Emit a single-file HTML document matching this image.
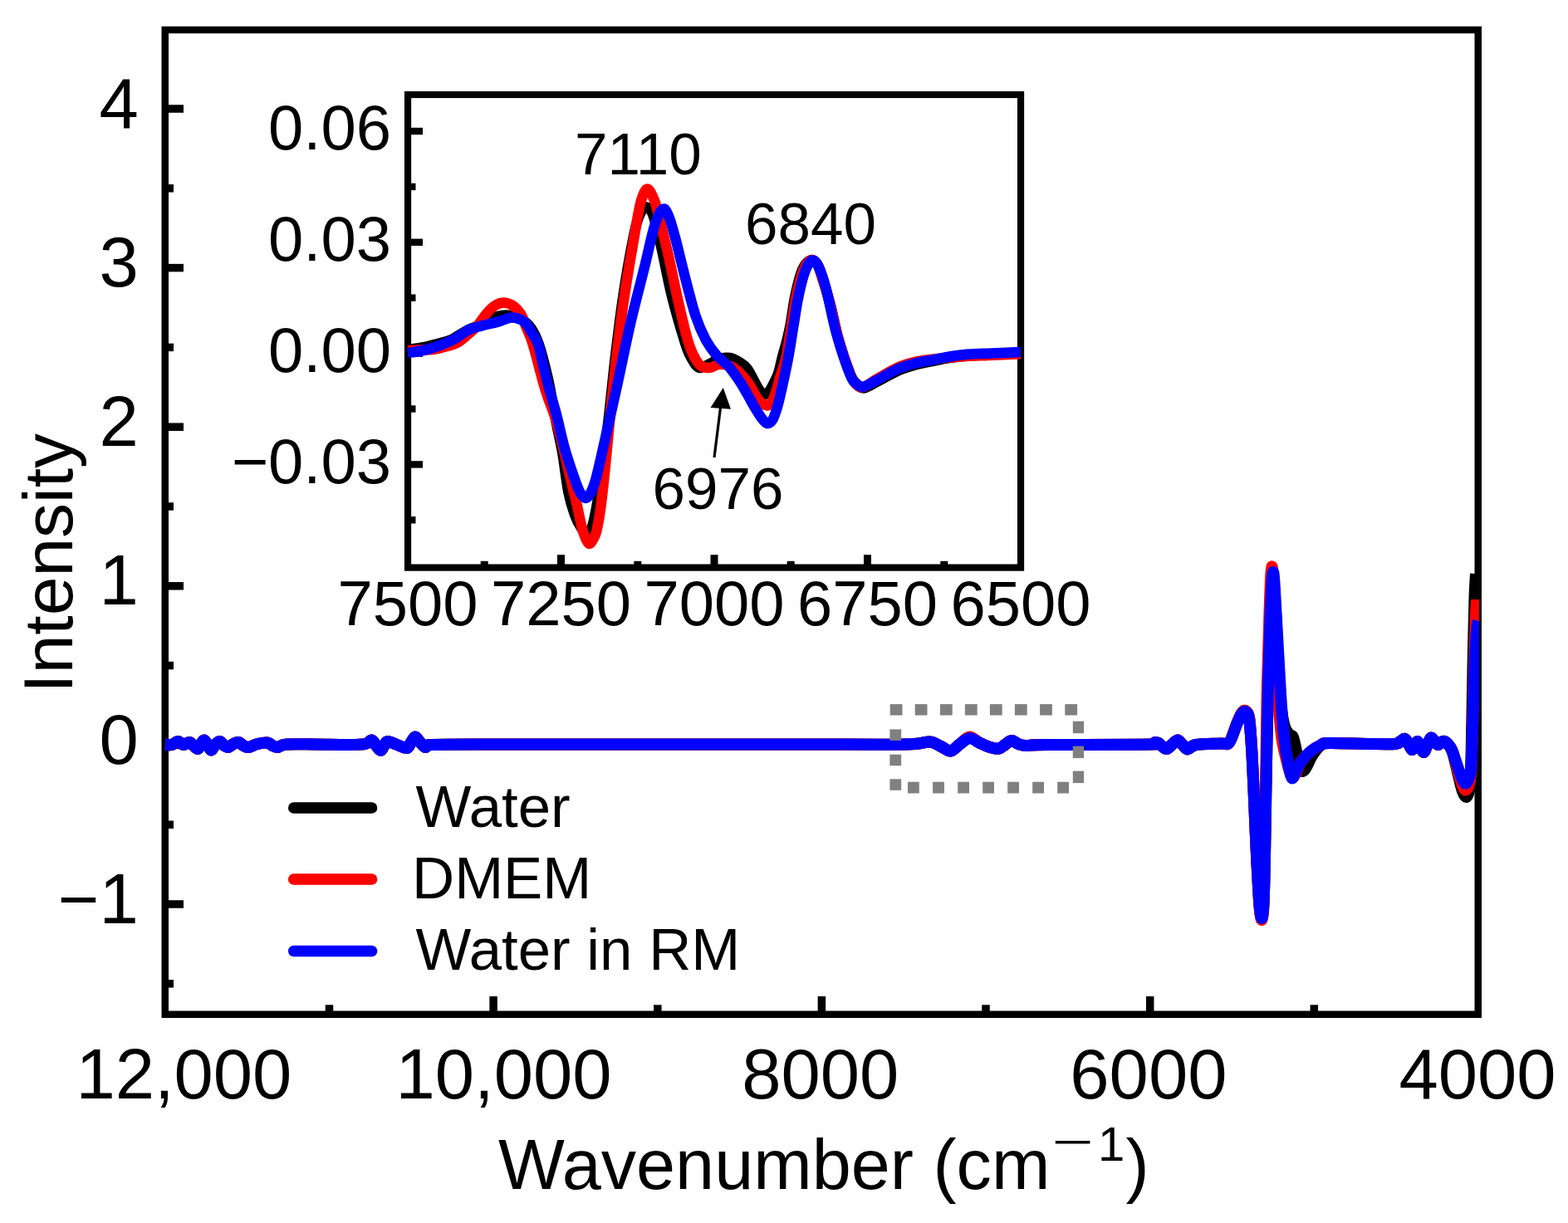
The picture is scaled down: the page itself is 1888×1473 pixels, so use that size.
<!DOCTYPE html><html><head><meta charset="utf-8"><title>Intensity vs Wavenumber</title>
<style>html,body{margin:0;padding:0;background:#fff;}svg{display:block;}text{font-family:'Liberation Sans', Arial, Helvetica, sans-serif;fill:#000;}</style></head><body>
<svg width="1888" height="1473" viewBox="0 0 1888 1473">
<rect x="0" y="0" width="1888" height="1473" fill="#fff"/>
<clipPath id="mc"><rect x="0" y="0" width="1781" height="1473"/></clipPath>
<rect x="198.75" y="36.00" width="1581.00" height="1185.75" fill="none" stroke="#000" stroke-width="8.5"/>
<line x1="198.8" y1="131.0" x2="221" y2="131.0" stroke="#000" stroke-width="9.5"/>
<line x1="198.8" y1="322.6" x2="221" y2="322.6" stroke="#000" stroke-width="9.5"/>
<line x1="198.8" y1="514.2" x2="221" y2="514.2" stroke="#000" stroke-width="9.5"/>
<line x1="198.8" y1="705.8" x2="221" y2="705.8" stroke="#000" stroke-width="9.5"/>
<line x1="198.8" y1="897.4" x2="221" y2="897.4" stroke="#000" stroke-width="9.5"/>
<line x1="198.8" y1="1089.0" x2="221" y2="1089.0" stroke="#000" stroke-width="9.5"/>
<line x1="198.8" y1="226.8" x2="209" y2="226.8" stroke="#000" stroke-width="9.5"/>
<line x1="198.8" y1="418.4" x2="209" y2="418.4" stroke="#000" stroke-width="9.5"/>
<line x1="198.8" y1="610.0" x2="209" y2="610.0" stroke="#000" stroke-width="9.5"/>
<line x1="198.8" y1="801.6" x2="209" y2="801.6" stroke="#000" stroke-width="9.5"/>
<line x1="198.8" y1="993.2" x2="209" y2="993.2" stroke="#000" stroke-width="9.5"/>
<line x1="198.8" y1="1184.8" x2="209" y2="1184.8" stroke="#000" stroke-width="9.5"/>
<line x1="594.1" y1="1221.8" x2="594.1" y2="1200" stroke="#000" stroke-width="9.5"/>
<line x1="989.4" y1="1221.8" x2="989.4" y2="1200" stroke="#000" stroke-width="9.5"/>
<line x1="1384.7" y1="1221.8" x2="1384.7" y2="1200" stroke="#000" stroke-width="9.5"/>
<line x1="396.5" y1="1221.8" x2="396.5" y2="1210.3" stroke="#000" stroke-width="9.5"/>
<line x1="791.8" y1="1221.8" x2="791.8" y2="1210.3" stroke="#000" stroke-width="9.5"/>
<line x1="1187.0" y1="1221.8" x2="1187.0" y2="1210.3" stroke="#000" stroke-width="9.5"/>
<line x1="1582.3" y1="1221.8" x2="1582.3" y2="1210.3" stroke="#000" stroke-width="9.5"/>
<g fill="none" stroke-linejoin="round" stroke-linecap="butt" stroke-width="14" clip-path="url(#mc)">
<path stroke="#000" d="M198.7,896.5 C200.1,896.6 204.4,897.6 207.0,897.0 C209.6,896.4 212.2,893.0 214.5,893.0 C216.8,893.0 218.8,896.8 221.0,897.0 C223.2,897.2 226.0,893.8 228.0,894.0 C230.0,894.2 231.3,896.7 233.0,898.0 C234.7,899.3 236.7,902.3 238.2,902.0 C239.7,901.7 240.7,897.8 242.0,896.0 C243.3,894.2 244.5,891.3 245.8,891.5 C247.1,891.7 248.6,895.0 250.0,897.0 C251.4,899.0 252.8,903.5 254.3,903.5 C255.8,903.5 257.3,898.8 259.0,897.0 C260.7,895.2 262.7,892.8 264.5,893.0 C266.3,893.2 268.3,896.8 270.0,898.0 C271.7,899.2 272.9,900.3 274.7,900.0 C276.5,899.7 278.9,897.0 281.0,896.0 C283.1,895.0 285.4,893.7 287.4,894.0 C289.4,894.3 291.0,897.0 293.0,898.0 C295.0,899.0 296.4,900.3 299.2,900.0 C302.0,899.7 306.2,896.9 310.0,896.0 C313.8,895.1 319.1,894.2 322.1,894.5 C325.1,894.8 326.0,897.1 328.0,898.0 C330.0,898.9 331.2,900.2 334.0,900.0 C336.8,899.8 337.3,897.1 345.0,896.5 C352.7,895.9 367.5,896.4 380.0,896.5 C392.5,896.6 410.0,897.1 420.0,897.0 C430.0,896.9 435.4,896.9 440.0,896.0 C444.6,895.1 445.3,891.2 447.5,891.5 C449.7,891.8 451.1,895.9 453.0,898.0 C454.9,900.1 456.9,904.2 458.6,904.0 C460.3,903.8 461.6,898.8 463.0,897.0 C464.4,895.2 464.5,893.0 467.0,893.0 C469.5,893.0 474.2,895.7 478.0,897.0 C481.8,898.3 487.2,901.5 490.0,901.0 C492.8,900.5 493.3,896.2 495.0,894.0 C496.7,891.8 498.3,887.7 500.0,887.5 C501.7,887.3 503.0,890.9 505.0,893.0 C507.0,895.1 509.5,899.3 512.0,900.0 C514.5,900.7 505.3,897.6 520.0,897.0 C534.7,896.4 570.0,896.6 600.0,896.5 C630.0,896.4 666.7,896.5 700.0,896.5 C733.3,896.5 766.7,896.5 800.0,896.5 C833.3,896.5 866.7,896.5 900.0,896.5 C933.3,896.5 973.3,896.5 1000.0,896.5 C1026.7,896.5 1043.2,896.9 1060.0,896.8 C1076.8,896.7 1091.0,896.5 1101.0,896.0 C1111.0,895.5 1114.7,893.0 1120.0,893.5 C1125.3,894.0 1128.9,897.2 1133.0,899.0 C1137.1,900.8 1140.7,905.0 1144.5,904.5 C1148.3,904.0 1152.2,898.6 1156.0,896.0 C1159.8,893.4 1163.5,889.2 1167.5,889.0 C1171.5,888.8 1175.9,893.2 1180.0,895.0 C1184.1,896.8 1188.2,898.9 1192.0,900.0 C1195.8,901.1 1200.0,902.0 1203.0,901.5 C1206.0,901.0 1207.5,898.6 1210.0,897.0 C1212.5,895.4 1215.3,892.2 1218.0,892.0 C1220.7,891.8 1223.2,895.0 1226.0,896.0 C1228.8,897.0 1229.3,897.8 1235.0,898.0 C1240.7,898.2 1235.0,897.2 1260.0,897.0 C1285.0,896.8 1363.2,897.0 1385.0,896.5 C1406.8,896.0 1389.0,893.9 1391.0,894.0 C1393.0,894.1 1394.7,895.7 1397.0,897.0 C1399.3,898.3 1402.3,902.0 1404.6,902.0 C1406.9,902.0 1408.8,898.8 1411.0,897.0 C1413.2,895.2 1415.8,891.5 1418.0,891.5 C1420.2,891.5 1422.0,895.2 1424.0,897.0 C1426.0,898.8 1427.3,902.5 1430.0,902.5 C1432.7,902.5 1433.3,898.2 1440.0,897.0 C1446.7,895.8 1463.3,895.9 1470.0,895.5 C1476.7,895.1 1476.8,898.4 1480.0,894.5 C1483.2,890.6 1486.5,877.9 1489.0,872.0 C1491.5,866.1 1493.2,861.7 1495.0,859.0 C1496.8,856.3 1498.0,855.2 1499.5,856.0 C1501.0,856.8 1502.8,856.7 1504.0,864.0 C1505.2,871.3 1506.1,885.7 1507.0,900.0 C1507.9,914.3 1508.5,928.3 1509.5,950.0 C1510.5,971.7 1511.8,1006.7 1513.0,1030.0 C1514.2,1053.3 1515.4,1077.7 1516.4,1090.0 C1517.4,1102.3 1518.2,1104.3 1519.0,1104.0 C1519.8,1103.7 1520.8,1100.3 1521.5,1088.0 C1522.2,1075.7 1522.5,1053.0 1523.0,1030.0 C1523.5,1007.0 1523.8,982.3 1524.4,950.0 C1525.0,917.7 1525.8,871.3 1526.7,836.0 C1527.6,800.7 1528.7,762.0 1529.7,738.0 C1530.7,714.0 1531.5,692.0 1532.5,692.0 C1533.5,692.0 1534.6,714.0 1536.0,738.0 C1537.4,762.0 1539.3,813.7 1541.0,836.0 C1542.7,858.3 1544.2,864.0 1546.0,872.0 C1547.8,880.0 1550.2,881.3 1552.0,884.0 C1553.8,886.7 1555.5,884.5 1557.0,888.0 C1558.5,891.5 1559.7,899.0 1561.0,905.0 C1562.3,911.0 1563.7,920.0 1565.0,924.0 C1566.3,928.0 1567.5,929.3 1569.0,929.0 C1570.5,928.7 1572.2,925.2 1574.0,922.0 C1575.8,918.8 1577.3,914.0 1580.0,910.0 C1582.7,906.0 1586.7,900.5 1590.0,898.0 C1593.3,895.5 1590.0,895.3 1600.0,895.0 C1610.0,894.7 1636.7,895.8 1650.0,896.0 C1663.3,896.2 1674.0,896.5 1680.0,896.0 C1686.0,895.5 1684.1,894.0 1686.0,893.0 C1687.9,892.0 1689.8,889.3 1691.5,889.8 C1693.2,890.3 1694.6,893.8 1696.0,896.0 C1697.4,898.2 1698.8,902.7 1700.0,903.0 C1701.2,903.3 1701.9,899.7 1703.0,898.0 C1704.1,896.3 1705.5,892.8 1706.7,893.0 C1707.9,893.2 1708.7,896.8 1710.0,899.0 C1711.3,901.2 1713.0,906.0 1714.3,906.0 C1715.6,906.0 1716.5,901.9 1718.0,899.0 C1719.5,896.1 1721.3,889.5 1723.0,888.7 C1724.7,887.9 1726.5,892.6 1728.0,894.0 C1729.5,895.4 1730.5,897.0 1731.7,897.0 C1732.9,897.0 1733.7,894.7 1735.0,894.0 C1736.3,893.3 1737.8,892.5 1739.3,893.0 C1740.8,893.5 1742.4,894.8 1744.0,897.0 C1745.6,899.2 1747.0,899.8 1749.0,906.0 C1751.0,912.2 1754.0,926.2 1756.0,934.0 C1758.0,941.8 1759.4,948.7 1761.0,953.0 C1762.6,957.3 1764.2,960.2 1765.5,960.0 C1766.8,959.8 1768.1,957.0 1769.0,952.0 C1769.9,947.0 1770.4,945.3 1771.0,930.0 C1771.6,914.7 1772.0,885.0 1772.5,860.0 C1773.0,835.0 1773.5,803.3 1774.0,780.0 C1774.5,756.7 1775.1,733.7 1775.5,720.0 C1775.9,706.3 1776.3,702.8 1776.6,698.0 C1776.8,693.2 1776.9,692.2 1777.0,691.0"/>
<path stroke="#f00" d="M198.7,896.5 C200.1,896.6 204.4,897.6 207.0,897.0 C209.6,896.4 212.2,893.0 214.5,893.0 C216.8,893.0 218.8,896.8 221.0,897.0 C223.2,897.2 226.0,893.8 228.0,894.0 C230.0,894.2 231.3,896.7 233.0,898.0 C234.7,899.3 236.7,902.3 238.2,902.0 C239.7,901.7 240.7,897.8 242.0,896.0 C243.3,894.2 244.5,891.3 245.8,891.5 C247.1,891.7 248.6,895.0 250.0,897.0 C251.4,899.0 252.8,903.5 254.3,903.5 C255.8,903.5 257.3,898.8 259.0,897.0 C260.7,895.2 262.7,892.8 264.5,893.0 C266.3,893.2 268.3,896.8 270.0,898.0 C271.7,899.2 272.9,900.3 274.7,900.0 C276.5,899.7 278.9,897.0 281.0,896.0 C283.1,895.0 285.4,893.7 287.4,894.0 C289.4,894.3 291.0,897.0 293.0,898.0 C295.0,899.0 296.4,900.3 299.2,900.0 C302.0,899.7 306.2,896.9 310.0,896.0 C313.8,895.1 319.1,894.2 322.1,894.5 C325.1,894.8 326.0,897.1 328.0,898.0 C330.0,898.9 331.2,900.2 334.0,900.0 C336.8,899.8 337.3,897.1 345.0,896.5 C352.7,895.9 367.5,896.4 380.0,896.5 C392.5,896.6 410.0,897.1 420.0,897.0 C430.0,896.9 435.4,896.9 440.0,896.0 C444.6,895.1 445.3,891.2 447.5,891.5 C449.7,891.8 451.1,895.9 453.0,898.0 C454.9,900.1 456.9,904.2 458.6,904.0 C460.3,903.8 461.6,898.8 463.0,897.0 C464.4,895.2 464.5,893.0 467.0,893.0 C469.5,893.0 474.2,895.7 478.0,897.0 C481.8,898.3 487.2,901.5 490.0,901.0 C492.8,900.5 493.3,896.2 495.0,894.0 C496.7,891.8 498.3,887.7 500.0,887.5 C501.7,887.3 503.0,890.9 505.0,893.0 C507.0,895.1 509.5,899.3 512.0,900.0 C514.5,900.7 505.3,897.6 520.0,897.0 C534.7,896.4 570.0,896.6 600.0,896.5 C630.0,896.4 666.7,896.5 700.0,896.5 C733.3,896.5 766.7,896.5 800.0,896.5 C833.3,896.5 866.7,896.5 900.0,896.5 C933.3,896.5 973.3,896.5 1000.0,896.5 C1026.7,896.5 1043.2,896.9 1060.0,896.8 C1076.8,896.7 1091.0,896.5 1101.0,896.0 C1111.0,895.5 1114.7,893.0 1120.0,893.5 C1125.3,894.0 1128.9,897.2 1133.0,899.0 C1137.1,900.8 1140.7,905.0 1144.5,904.5 C1148.3,904.0 1152.2,898.8 1156.0,896.0 C1159.8,893.2 1163.5,887.7 1167.5,887.5 C1171.5,887.3 1175.9,892.9 1180.0,895.0 C1184.1,897.1 1188.2,898.9 1192.0,900.0 C1195.8,901.1 1200.0,902.0 1203.0,901.5 C1206.0,901.0 1207.5,898.6 1210.0,897.0 C1212.5,895.4 1215.3,892.2 1218.0,892.0 C1220.7,891.8 1223.2,895.0 1226.0,896.0 C1228.8,897.0 1229.3,897.8 1235.0,898.0 C1240.7,898.2 1235.0,897.2 1260.0,897.0 C1285.0,896.8 1363.2,897.0 1385.0,896.5 C1406.8,896.0 1389.0,893.9 1391.0,894.0 C1393.0,894.1 1394.7,895.7 1397.0,897.0 C1399.3,898.3 1402.3,902.0 1404.6,902.0 C1406.9,902.0 1408.8,898.8 1411.0,897.0 C1413.2,895.2 1415.8,891.5 1418.0,891.5 C1420.2,891.5 1422.0,895.2 1424.0,897.0 C1426.0,898.8 1427.3,902.5 1430.0,902.5 C1432.7,902.5 1433.3,898.2 1440.0,897.0 C1446.7,895.8 1463.3,895.9 1470.0,895.5 C1476.7,895.1 1476.8,898.4 1480.0,894.5 C1483.2,890.6 1486.5,877.9 1489.0,872.0 C1491.5,866.1 1493.2,861.7 1495.0,859.0 C1496.8,856.3 1498.0,855.2 1499.5,856.0 C1501.0,856.8 1502.8,856.7 1504.0,864.0 C1505.2,871.3 1506.1,885.7 1507.0,900.0 C1507.9,914.3 1508.5,928.3 1509.5,950.0 C1510.5,971.7 1511.8,1006.7 1513.0,1030.0 C1514.2,1053.3 1515.4,1077.0 1516.4,1090.0 C1517.5,1103.0 1518.5,1108.3 1519.3,1108.0 C1520.1,1107.7 1520.9,1101.0 1521.5,1088.0 C1522.1,1075.0 1522.6,1053.0 1523.0,1030.0 C1523.4,1007.0 1523.5,982.3 1524.0,950.0 C1524.5,917.7 1525.0,871.3 1525.7,836.0 C1526.5,800.7 1527.6,763.6 1528.5,738.0 C1529.4,712.4 1530.2,683.7 1531.3,682.4 C1532.4,681.1 1533.7,704.4 1535.0,730.0 C1536.3,755.6 1537.7,810.0 1539.0,836.0 C1540.3,862.0 1541.3,872.8 1543.0,886.0 C1544.7,899.2 1547.0,906.8 1549.0,915.0 C1551.0,923.2 1553.2,932.2 1555.0,935.0 C1556.8,937.8 1558.2,934.8 1560.0,932.0 C1561.8,929.2 1563.0,922.5 1566.0,918.0 C1569.0,913.5 1574.0,908.4 1578.0,905.0 C1582.0,901.6 1586.3,899.2 1590.0,897.5 C1593.7,895.8 1590.0,895.2 1600.0,895.0 C1610.0,894.8 1636.7,895.8 1650.0,896.0 C1663.3,896.2 1674.0,896.5 1680.0,896.0 C1686.0,895.5 1684.1,894.0 1686.0,893.0 C1687.9,892.0 1689.8,889.3 1691.5,889.8 C1693.2,890.3 1694.6,893.8 1696.0,896.0 C1697.4,898.2 1698.8,902.7 1700.0,903.0 C1701.2,903.3 1701.9,899.7 1703.0,898.0 C1704.1,896.3 1705.5,892.8 1706.7,893.0 C1707.9,893.2 1708.7,896.8 1710.0,899.0 C1711.3,901.2 1713.0,906.0 1714.3,906.0 C1715.6,906.0 1716.5,901.9 1718.0,899.0 C1719.5,896.1 1721.3,889.5 1723.0,888.7 C1724.7,887.9 1726.5,892.6 1728.0,894.0 C1729.5,895.4 1730.5,897.0 1731.7,897.0 C1732.9,897.0 1733.7,894.7 1735.0,894.0 C1736.3,893.3 1737.8,892.5 1739.3,893.0 C1740.8,893.5 1742.4,895.0 1744.0,897.0 C1745.6,899.0 1747.0,899.5 1749.0,905.0 C1751.0,910.5 1754.0,923.2 1756.0,930.0 C1758.0,936.8 1759.5,942.4 1761.0,946.0 C1762.5,949.6 1763.7,951.8 1765.0,951.5 C1766.3,951.2 1767.9,948.4 1769.0,944.0 C1770.1,939.6 1770.8,939.0 1771.5,925.0 C1772.2,911.0 1772.8,882.5 1773.5,860.0 C1774.2,837.5 1774.9,810.0 1775.5,790.0 C1776.1,770.0 1776.6,750.3 1777.0,740.0 C1777.4,729.7 1777.6,731.0 1777.8,728.0 C1778.0,725.0 1778.0,723.0 1778.0,722.0"/>
<path stroke="#00f" d="M198.7,896.5 C200.1,896.6 204.4,897.6 207.0,897.0 C209.6,896.4 212.2,893.0 214.5,893.0 C216.8,893.0 218.8,896.8 221.0,897.0 C223.2,897.2 226.0,893.8 228.0,894.0 C230.0,894.2 231.3,896.7 233.0,898.0 C234.7,899.3 236.7,902.3 238.2,902.0 C239.7,901.7 240.7,897.8 242.0,896.0 C243.3,894.2 244.5,891.3 245.8,891.5 C247.1,891.7 248.6,895.0 250.0,897.0 C251.4,899.0 252.8,903.5 254.3,903.5 C255.8,903.5 257.3,898.8 259.0,897.0 C260.7,895.2 262.7,892.8 264.5,893.0 C266.3,893.2 268.3,896.8 270.0,898.0 C271.7,899.2 272.9,900.3 274.7,900.0 C276.5,899.7 278.9,897.0 281.0,896.0 C283.1,895.0 285.4,893.7 287.4,894.0 C289.4,894.3 291.0,897.0 293.0,898.0 C295.0,899.0 296.4,900.3 299.2,900.0 C302.0,899.7 306.2,896.9 310.0,896.0 C313.8,895.1 319.1,894.2 322.1,894.5 C325.1,894.8 326.0,897.1 328.0,898.0 C330.0,898.9 331.2,900.2 334.0,900.0 C336.8,899.8 337.3,897.1 345.0,896.5 C352.7,895.9 367.5,896.4 380.0,896.5 C392.5,896.6 410.0,897.1 420.0,897.0 C430.0,896.9 435.4,896.9 440.0,896.0 C444.6,895.1 445.3,891.2 447.5,891.5 C449.7,891.8 451.1,895.9 453.0,898.0 C454.9,900.1 456.9,904.2 458.6,904.0 C460.3,903.8 461.6,898.8 463.0,897.0 C464.4,895.2 464.5,893.0 467.0,893.0 C469.5,893.0 474.2,895.7 478.0,897.0 C481.8,898.3 487.2,901.5 490.0,901.0 C492.8,900.5 493.3,896.2 495.0,894.0 C496.7,891.8 498.3,887.7 500.0,887.5 C501.7,887.3 503.0,890.9 505.0,893.0 C507.0,895.1 509.5,899.3 512.0,900.0 C514.5,900.7 505.3,897.6 520.0,897.0 C534.7,896.4 570.0,896.6 600.0,896.5 C630.0,896.4 666.7,896.5 700.0,896.5 C733.3,896.5 766.7,896.5 800.0,896.5 C833.3,896.5 866.7,896.5 900.0,896.5 C933.3,896.5 973.3,896.5 1000.0,896.5 C1026.7,896.5 1043.2,896.9 1060.0,896.8 C1076.8,896.7 1091.0,896.5 1101.0,896.0 C1111.0,895.5 1114.7,893.0 1120.0,893.5 C1125.3,894.0 1128.9,897.2 1133.0,899.0 C1137.1,900.8 1140.7,905.0 1144.5,904.5 C1148.3,904.0 1152.2,898.6 1156.0,896.0 C1159.8,893.4 1163.5,889.2 1167.5,889.0 C1171.5,888.8 1175.9,893.2 1180.0,895.0 C1184.1,896.8 1188.2,898.9 1192.0,900.0 C1195.8,901.1 1200.0,902.0 1203.0,901.5 C1206.0,901.0 1207.5,898.6 1210.0,897.0 C1212.5,895.4 1215.3,892.2 1218.0,892.0 C1220.7,891.8 1223.2,895.0 1226.0,896.0 C1228.8,897.0 1229.3,897.8 1235.0,898.0 C1240.7,898.2 1235.0,897.2 1260.0,897.0 C1285.0,896.8 1363.2,897.0 1385.0,896.5 C1406.8,896.0 1389.0,893.9 1391.0,894.0 C1393.0,894.1 1394.7,895.7 1397.0,897.0 C1399.3,898.3 1402.3,902.0 1404.6,902.0 C1406.9,902.0 1408.8,898.8 1411.0,897.0 C1413.2,895.2 1415.8,891.5 1418.0,891.5 C1420.2,891.5 1422.0,895.2 1424.0,897.0 C1426.0,898.8 1427.3,902.5 1430.0,902.5 C1432.7,902.5 1433.3,898.2 1440.0,897.0 C1446.7,895.8 1463.3,895.9 1470.0,895.5 C1476.7,895.1 1476.8,898.2 1480.0,894.5 C1483.2,890.8 1486.5,878.8 1489.0,873.0 C1491.5,867.2 1493.2,862.7 1495.0,860.0 C1496.8,857.3 1498.0,856.2 1499.5,857.0 C1501.0,857.8 1502.8,857.8 1504.0,865.0 C1505.2,872.2 1506.1,885.8 1507.0,900.0 C1507.9,914.2 1508.5,928.3 1509.5,950.0 C1510.5,971.7 1511.8,1007.0 1513.0,1030.0 C1514.2,1053.0 1515.4,1075.3 1516.4,1088.0 C1517.5,1100.7 1518.5,1106.0 1519.3,1106.0 C1520.1,1106.0 1520.9,1100.7 1521.5,1088.0 C1522.1,1075.3 1522.5,1053.0 1523.0,1030.0 C1523.5,1007.0 1523.8,982.3 1524.4,950.0 C1525.0,917.7 1525.8,871.3 1526.7,836.0 C1527.6,800.7 1528.7,762.5 1529.7,738.0 C1530.8,713.5 1531.9,689.0 1533.0,689.0 C1534.1,689.0 1535.0,713.5 1536.5,738.0 C1538.0,762.5 1540.4,811.3 1542.0,836.0 C1543.6,860.7 1544.5,872.0 1546.0,886.0 C1547.5,900.0 1549.4,911.5 1551.0,920.0 C1552.6,928.5 1554.0,935.3 1555.5,937.0 C1557.0,938.7 1558.2,933.2 1560.0,930.0 C1561.8,926.8 1563.0,922.2 1566.0,918.0 C1569.0,913.8 1574.0,908.4 1578.0,905.0 C1582.0,901.6 1586.3,899.2 1590.0,897.5 C1593.7,895.8 1590.0,895.2 1600.0,895.0 C1610.0,894.8 1636.7,895.8 1650.0,896.0 C1663.3,896.2 1674.0,896.5 1680.0,896.0 C1686.0,895.5 1684.1,894.0 1686.0,893.0 C1687.9,892.0 1689.8,889.3 1691.5,889.8 C1693.2,890.3 1694.6,893.8 1696.0,896.0 C1697.4,898.2 1698.8,902.7 1700.0,903.0 C1701.2,903.3 1701.9,899.7 1703.0,898.0 C1704.1,896.3 1705.5,892.8 1706.7,893.0 C1707.9,893.2 1708.7,896.8 1710.0,899.0 C1711.3,901.2 1713.0,906.0 1714.3,906.0 C1715.6,906.0 1716.5,901.9 1718.0,899.0 C1719.5,896.1 1721.3,889.5 1723.0,888.7 C1724.7,887.9 1726.5,892.6 1728.0,894.0 C1729.5,895.4 1730.5,897.0 1731.7,897.0 C1732.9,897.0 1733.7,894.7 1735.0,894.0 C1736.3,893.3 1737.8,892.5 1739.3,893.0 C1740.8,893.5 1742.5,895.3 1744.0,897.0 C1745.5,898.7 1746.1,898.5 1748.0,903.0 C1749.9,907.5 1753.4,918.3 1755.4,924.0 C1757.4,929.7 1758.5,933.7 1760.0,937.0 C1761.5,940.3 1762.9,943.4 1764.3,943.6 C1765.7,943.8 1767.3,941.6 1768.5,938.0 C1769.7,934.4 1770.7,934.3 1771.5,922.0 C1772.3,909.7 1772.8,883.5 1773.5,864.0 C1774.2,844.5 1774.8,821.3 1775.5,805.0 C1776.2,788.7 1776.9,774.8 1777.5,766.0 C1778.1,757.2 1778.6,755.0 1779.0,752.0 C1779.4,749.0 1779.8,748.7 1780.0,748.0"/>
</g>
<text x="166.7" y="153.5" font-size="85" text-anchor="end">4</text>
<text x="166.7" y="345.1" font-size="85" text-anchor="end">3</text>
<text x="166.7" y="536.7" font-size="85" text-anchor="end">2</text>
<text x="166.7" y="728.3" font-size="85" text-anchor="end">1</text>
<text x="166.7" y="919.9" font-size="85" text-anchor="end">0</text>
<text x="166.7" y="1111.5" font-size="85" text-anchor="end">−1</text>
<text x="221.4" y="1322.8" font-size="85" text-anchor="middle">12,000</text>
<text x="606.5" y="1322.8" font-size="85" text-anchor="middle">10,000</text>
<text x="987.8" y="1322.8" font-size="85" text-anchor="middle">8000</text>
<text x="1382.9" y="1322.8" font-size="85" text-anchor="middle">6000</text>
<text x="1779.0" y="1322.8" font-size="85" text-anchor="middle">4000</text>
<text x="600" y="1432.1" font-size="84.6">Wavenumber (cm</text>
<text x="1267" y="1395" font-size="58" transform="translate(1267 1376) scale(1.477 0.85) translate(-1267 -1376)">−</text>
<text x="1322" y="1398.3" font-size="58">1</text>
<text x="1355.5" y="1432.1" font-size="84.6">)</text>
<text transform="translate(86.8 678.3) rotate(-90)" x="0" y="0" font-size="84" text-anchor="middle">Intensity</text>
<g fill="#808080">
<rect x="1071.7" y="848.1" width="14.8" height="13.4"/>
<rect x="1101.7" y="848.1" width="14.8" height="13.4"/>
<rect x="1131.9" y="848.1" width="14.8" height="13.4"/>
<rect x="1161.9" y="848.1" width="14.8" height="13.4"/>
<rect x="1191.9" y="848.1" width="14.8" height="13.4"/>
<rect x="1221.9" y="848.1" width="14.8" height="13.4"/>
<rect x="1252.1" y="848.1" width="14.8" height="13.4"/>
<rect x="1282.3" y="848.1" width="14.8" height="13.4"/>
<rect x="1291.8" y="868.7" width="13.3" height="14.5"/>
<rect x="1291.8" y="898.6" width="13.3" height="14.5"/>
<rect x="1291.8" y="928.6" width="13.3" height="14.5"/>
<rect x="1093.0" y="941.7" width="13.8" height="13.8"/>
<rect x="1123.1" y="941.7" width="13.8" height="13.8"/>
<rect x="1153.2" y="941.7" width="13.8" height="13.8"/>
<rect x="1183.2" y="941.7" width="13.8" height="13.8"/>
<rect x="1213.2" y="941.7" width="13.8" height="13.8"/>
<rect x="1243.2" y="941.7" width="13.8" height="13.8"/>
<rect x="1273.2" y="941.7" width="13.8" height="13.8"/>
<rect x="1071.4" y="878.4" width="13.8" height="13.5"/>
<rect x="1071.4" y="908.7" width="13.8" height="13.5"/>
<rect x="1071.4" y="938.3" width="13.8" height="13.5"/>
</g>
<line x1="353.7" y1="973.0" x2="447.6" y2="973.0" stroke="#000" stroke-width="13.5" stroke-linecap="round"/>
<line x1="353.7" y1="1059.0" x2="447.6" y2="1059.0" stroke="#f00" stroke-width="13.5" stroke-linecap="round"/>
<line x1="353.7" y1="1145.4" x2="447.6" y2="1145.4" stroke="#00f" stroke-width="13.5" stroke-linecap="round"/>
<text x="500.5" y="996" font-size="70.8">Water</text>
<text x="496" y="1082" font-size="70.8">DMEM</text>
<text x="500.5" y="1168" font-size="70.8">Water in RM</text>
<rect x="491.05" y="114.00" width="738.00" height="569.60" fill="#fff" stroke="#000" stroke-width="8.2"/>
<line x1="491.1" y1="158.0" x2="509" y2="158.0" stroke="#000" stroke-width="8.4"/>
<line x1="491.1" y1="291.8" x2="509" y2="291.8" stroke="#000" stroke-width="8.4"/>
<line x1="491.1" y1="425.6" x2="509" y2="425.6" stroke="#000" stroke-width="8.4"/>
<line x1="491.1" y1="559.4" x2="509" y2="559.4" stroke="#000" stroke-width="8.4"/>
<line x1="491.1" y1="224.9" x2="500.5" y2="224.9" stroke="#000" stroke-width="8.4"/>
<line x1="491.1" y1="358.7" x2="500.5" y2="358.7" stroke="#000" stroke-width="8.4"/>
<line x1="491.1" y1="492.5" x2="500.5" y2="492.5" stroke="#000" stroke-width="8.4"/>
<line x1="491.1" y1="626.3" x2="500.5" y2="626.3" stroke="#000" stroke-width="8.4"/>
<line x1="675.5" y1="683.6" x2="675.5" y2="668.2" stroke="#000" stroke-width="9"/>
<line x1="860.0" y1="683.6" x2="860.0" y2="668.2" stroke="#000" stroke-width="9"/>
<line x1="1044.5" y1="683.6" x2="1044.5" y2="668.2" stroke="#000" stroke-width="9"/>
<line x1="583.2" y1="683.6" x2="583.2" y2="675.8" stroke="#000" stroke-width="9"/>
<line x1="767.8" y1="683.6" x2="767.8" y2="675.8" stroke="#000" stroke-width="9"/>
<line x1="952.2" y1="683.6" x2="952.2" y2="675.8" stroke="#000" stroke-width="9"/>
<line x1="1136.8" y1="683.6" x2="1136.8" y2="675.8" stroke="#000" stroke-width="9"/>
<text x="471" y="180.3" font-size="76" text-anchor="end">0.06</text>
<text x="471" y="314.1" font-size="76" text-anchor="end">0.03</text>
<text x="471" y="447.9" font-size="76" text-anchor="end">0.00</text>
<text x="471" y="581.7" font-size="76" text-anchor="end">−0.03</text>
<text x="491.0" y="752.7" font-size="76" text-anchor="middle">7500</text>
<text x="675.5" y="752.7" font-size="76" text-anchor="middle">7250</text>
<text x="860.0" y="752.7" font-size="76" text-anchor="middle">7000</text>
<text x="1044.5" y="752.7" font-size="76" text-anchor="middle">6750</text>
<text x="1229.0" y="752.7" font-size="76" text-anchor="middle">6500</text>
<g fill="none" stroke-linejoin="round" stroke-linecap="butt" stroke-width="12.5">
<path stroke="#000" d="M491.0,421.0 C493.9,420.6 502.5,419.7 508.5,418.5 C514.5,417.3 521.5,415.5 527.1,414.0 C532.7,412.5 538.2,410.9 541.9,409.6 C545.5,408.3 545.3,408.1 549.0,406.0 C552.7,403.9 559.0,399.5 564.0,397.0 C569.0,394.5 574.7,393.0 579.0,391.0 C583.3,389.0 586.7,386.7 590.0,385.0 C593.3,383.3 595.8,381.9 599.0,381.0 C602.2,380.1 605.5,379.5 609.0,379.5 C612.5,379.5 616.5,380.0 620.0,381.0 C623.5,382.0 626.7,383.0 630.0,385.5 C633.3,388.0 636.9,391.2 640.0,396.0 C643.1,400.8 645.4,404.5 648.7,414.3 C652.0,424.1 656.9,443.6 659.6,455.0 C662.3,466.4 663.3,473.8 665.0,483.0 C666.7,492.2 668.0,499.5 670.0,510.0 C672.0,520.5 674.9,532.3 677.3,546.0 C679.7,559.7 681.8,579.7 684.2,592.0 C686.7,604.3 689.4,612.7 692.0,620.0 C694.6,627.3 697.4,632.3 700.0,636.0 C702.6,639.7 705.3,642.3 707.5,642.0 C709.7,641.7 711.2,639.0 713.0,634.0 C714.8,629.0 716.3,621.0 718.0,612.0 C719.7,603.0 721.4,590.7 723.0,580.0 C724.6,569.3 725.8,561.7 727.5,548.0 C729.2,534.3 731.5,515.7 733.5,498.0 C735.5,480.3 737.4,460.8 739.5,442.0 C741.6,423.2 744.2,401.9 746.4,385.0 C748.6,368.1 750.8,353.6 752.9,340.3 C755.0,327.0 756.9,316.2 759.0,305.0 C761.1,293.8 763.4,281.2 765.5,273.0 C767.6,264.8 769.4,259.9 771.5,256.0 C773.6,252.1 775.6,249.2 778.0,249.5 C780.4,249.8 782.9,249.9 786.0,258.0 C789.1,266.1 792.6,281.9 796.4,298.3 C800.2,314.7 804.0,336.8 808.8,356.1 C813.6,375.4 821.3,401.4 825.3,414.0 C829.3,426.6 830.2,427.2 833.0,432.0 C835.8,436.8 838.1,441.9 841.8,442.9 C845.5,443.9 851.0,439.8 855.0,438.0 C859.0,436.2 862.0,433.2 866.0,432.0 C870.0,430.8 874.7,430.3 878.7,431.0 C882.7,431.7 886.5,433.8 890.0,436.0 C893.5,438.2 896.2,439.2 899.7,444.0 C903.2,448.8 908.6,460.1 911.3,464.8 C914.0,469.5 914.5,470.2 916.0,472.0 C917.5,473.8 918.8,475.6 920.5,475.5 C922.2,475.4 924.2,473.8 926.0,471.5 C927.8,469.2 929.7,465.6 931.5,462.0 C933.3,458.4 935.3,455.0 937.0,450.0 C938.7,445.0 939.8,438.7 941.5,432.0 C943.2,425.3 945.8,416.7 947.5,410.0 C949.2,403.3 949.8,401.0 951.5,392.0 C953.2,383.0 955.1,367.2 957.5,356.0 C959.9,344.8 963.0,332.1 966.0,325.0 C969.0,317.9 972.5,314.7 975.5,313.5 C978.5,312.3 981.7,314.9 984.0,318.0 C986.3,321.1 986.8,324.3 989.4,332.4 C992.0,340.5 996.2,353.7 999.6,366.4 C1003.0,379.1 1005.8,394.9 1009.7,408.8 C1013.7,422.7 1019.8,440.6 1023.3,449.5 C1026.8,458.4 1028.2,459.0 1031.0,462.0 C1033.8,465.0 1035.8,467.9 1040.1,467.5 C1044.4,467.1 1049.8,463.0 1056.7,459.5 C1063.6,456.0 1073.8,449.8 1081.3,446.5 C1088.8,443.2 1095.1,441.4 1102.0,439.5 C1108.9,437.6 1115.7,436.4 1122.6,435.0 C1129.5,433.6 1135.0,432.2 1143.3,431.0 C1151.6,429.8 1158.0,428.9 1172.3,428.0 C1186.6,427.1 1219.5,425.9 1229.0,425.5"/>
<path stroke="#f00" d="M491.0,422.0 C493.5,421.9 501.0,421.7 506.0,421.5 C511.0,421.3 516.2,421.6 521.0,421.0 C525.8,420.4 529.8,419.2 534.5,418.0 C539.2,416.8 544.7,415.8 549.3,413.5 C553.9,411.2 557.7,407.6 562.0,404.0 C566.3,400.4 570.9,396.5 575.0,392.0 C579.1,387.5 582.9,381.0 586.4,377.0 C589.9,373.0 592.6,370.1 596.0,368.0 C599.4,365.9 603.3,364.4 607.0,364.5 C610.7,364.6 614.7,366.2 618.0,368.5 C621.3,370.8 624.3,373.6 627.0,378.0 C629.7,382.4 631.6,388.9 634.0,395.0 C636.4,401.1 637.8,402.0 641.5,414.3 C645.2,426.6 652.1,454.4 656.4,468.7 C660.7,483.0 664.2,489.8 667.5,500.0 C670.8,510.2 673.4,520.0 676.0,530.0 C678.6,540.0 680.8,550.8 683.0,560.0 C685.2,569.2 687.2,577.5 689.0,585.0 C690.8,592.5 691.9,596.1 694.0,605.0 C696.1,613.9 699.0,630.2 701.5,638.5 C704.0,646.8 706.5,653.0 708.8,654.6 C711.0,656.2 713.4,650.7 715.0,648.0 C716.6,645.3 717.2,644.8 718.6,638.5 C720.0,632.2 721.8,623.1 723.5,610.0 C725.2,596.9 727.1,578.7 729.0,560.0 C730.9,541.3 733.0,517.7 735.0,498.0 C737.0,478.3 738.9,460.8 741.0,442.0 C743.1,423.2 745.7,401.9 747.9,385.0 C750.1,368.1 751.5,358.6 754.4,340.3 C757.3,322.0 762.5,291.5 765.4,275.0 C768.3,258.5 769.6,249.4 772.0,241.5 C774.4,233.6 777.0,227.5 779.7,227.5 C782.4,227.5 785.9,236.6 788.0,241.5 C790.1,246.4 789.5,246.2 792.3,257.0 C795.1,267.9 800.5,288.7 804.6,306.6 C808.7,324.5 812.9,346.5 817.0,364.4 C821.1,382.3 825.3,401.6 829.4,414.0 C833.5,426.4 837.7,434.0 841.8,438.8 C845.9,443.6 850.1,442.9 854.2,442.9 C858.3,442.9 861.8,438.8 866.6,438.8 C871.4,438.8 877.6,439.5 883.1,442.9 C888.6,446.3 894.9,453.2 899.7,459.4 C904.5,465.6 909.1,475.7 912.1,480.1 C915.1,484.5 915.9,484.6 918.0,486.0 C920.1,487.4 922.3,489.1 924.5,488.3 C926.7,487.5 929.1,484.7 931.0,481.0 C932.9,477.3 934.5,470.8 936.0,466.0 C937.5,461.2 938.2,457.9 940.0,452.0 C941.8,446.1 944.3,440.5 946.5,430.5 C948.7,420.5 950.9,404.4 953.0,392.0 C955.1,379.6 956.6,367.2 959.0,356.0 C961.4,344.8 964.7,332.1 967.5,325.0 C970.3,317.9 973.2,314.7 976.0,313.5 C978.8,312.3 981.8,314.9 984.0,318.0 C986.2,321.1 986.8,324.3 989.4,332.4 C992.0,340.5 996.2,353.7 999.6,366.4 C1003.0,379.1 1005.8,394.9 1009.7,408.8 C1013.7,422.7 1019.8,440.5 1023.3,449.5 C1026.8,458.5 1028.2,460.2 1031.0,463.0 C1033.8,465.8 1035.8,467.2 1040.1,466.0 C1044.4,464.8 1049.8,459.9 1056.7,456.0 C1063.6,452.1 1073.8,445.9 1081.3,442.5 C1088.8,439.1 1095.1,437.4 1102.0,435.8 C1108.9,434.2 1115.7,433.7 1122.6,432.8 C1129.5,431.9 1136.4,431.1 1143.3,430.5 C1150.2,429.9 1156.2,429.4 1164.0,429.0 C1171.8,428.6 1179.2,428.4 1190.0,428.0 C1200.8,427.6 1222.5,426.6 1229.0,426.3"/>
<path stroke="#00f" d="M491.0,425.2 C494.5,424.6 505.0,423.4 512.2,421.5 C519.5,419.6 528.3,416.5 534.5,414.1 C540.7,411.7 544.4,409.9 549.3,407.1 C554.2,404.3 559.1,399.8 564.1,397.4 C569.1,395.0 572.8,394.3 579.0,392.6 C585.2,390.9 595.0,388.8 601.2,387.1 C607.4,385.4 611.1,382.4 616.0,382.4 C620.9,382.4 626.8,384.3 630.8,387.2 C634.8,390.1 637.2,395.5 640.0,400.0 C642.8,404.5 645.5,407.6 647.8,414.3 C650.1,421.0 651.8,430.9 654.0,440.0 C656.2,449.1 658.6,458.7 661.3,468.7 C664.0,478.7 667.8,490.9 670.2,500.0 C672.6,509.1 673.7,515.3 675.6,523.0 C677.5,530.7 678.8,536.6 681.7,546.2 C684.7,555.8 690.4,572.8 693.3,580.8 C696.2,588.8 697.0,590.8 699.0,594.0 C701.0,597.2 703.4,600.0 705.4,600.0 C707.4,600.0 708.9,598.1 711.0,594.0 C713.1,589.9 714.7,587.2 717.9,575.1 C721.1,563.0 726.2,539.6 730.3,521.4 C734.4,503.2 737.9,488.0 742.7,466.0 C747.5,444.0 753.7,413.0 759.2,389.2 C764.7,365.4 770.9,342.6 775.7,323.1 C780.5,303.6 784.4,283.9 788.1,272.0 C791.8,260.1 795.2,254.0 798.0,252.0 C800.8,250.0 802.5,254.3 805.0,260.0 C807.5,265.6 809.5,273.3 812.9,285.9 C816.3,298.5 821.2,319.7 825.3,335.5 C829.4,351.3 833.6,368.5 837.7,380.9 C841.8,393.3 845.8,401.8 850.1,409.9 C854.5,417.9 859.3,424.0 863.8,429.2 C868.3,434.4 872.8,436.0 877.3,441.1 C881.8,446.2 887.0,454.0 890.9,459.8 C894.8,465.6 897.5,470.8 900.5,476.0 C903.5,481.2 906.2,486.4 909.0,491.0 C911.8,495.6 914.6,500.3 917.0,503.5 C919.4,506.7 921.4,509.6 923.6,510.0 C925.8,510.4 927.9,509.3 930.0,506.0 C932.1,502.7 934.0,496.8 936.0,490.0 C938.0,483.2 939.8,474.9 942.0,465.0 C944.2,455.1 947.0,442.7 949.2,430.5 C951.5,418.3 953.4,404.4 955.5,392.0 C957.6,379.6 959.2,367.3 961.6,356.1 C964.0,344.9 967.2,332.1 970.0,325.0 C972.8,317.9 975.5,314.0 978.2,313.5 C980.9,313.0 983.2,316.3 986.0,322.0 C988.8,327.7 991.2,334.6 994.7,347.9 C998.2,361.2 1002.3,384.4 1007.1,401.6 C1011.9,418.8 1019.6,441.1 1023.6,451.2 C1027.6,461.3 1028.2,459.6 1031.0,462.0 C1033.8,464.4 1035.8,466.4 1040.1,465.6 C1044.4,464.8 1049.8,460.9 1056.7,457.4 C1063.6,453.8 1073.8,447.6 1081.3,444.3 C1088.8,441.0 1095.1,439.3 1102.0,437.5 C1108.9,435.7 1115.7,434.9 1122.6,433.6 C1129.5,432.3 1136.4,430.6 1143.3,429.5 C1150.2,428.4 1157.1,427.3 1164.0,426.7 C1170.9,426.1 1177.7,426.0 1184.6,425.7 C1191.5,425.4 1197.9,425.4 1205.3,425.1 C1212.7,424.8 1225.0,424.0 1229.0,423.8"/>
</g>
<text x="692" y="210" font-size="71">7110</text>
<text x="897" y="293.6" font-size="71">6840</text>
<text x="785.5" y="613.1" font-size="71">6976</text>
<line x1="860" y1="551" x2="867.6" y2="490" stroke="#000" stroke-width="3.2"/>
<polygon points="870.8,467 855.5,491 880,492.8" fill="#000"/>
</svg></body></html>
